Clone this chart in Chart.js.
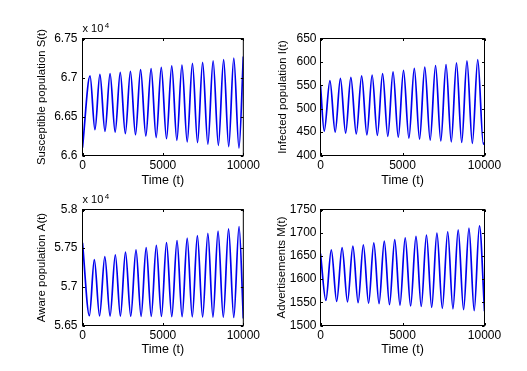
<!DOCTYPE html>
<html>
<head>
<meta charset="utf-8">
<script src="https://cdn.jsdelivr.net/npm/chart.js@4.4.1/dist/chart.umd.min.js"></script>
<style>
  html, body { margin: 0; padding: 0; background: #fff; }
  body { width: 527px; height: 371px; position: relative; overflow: hidden; }
  canvas { position: absolute; }
</style>
</head>
<body>
<canvas id="cS" width="263" height="190" style="left:0px;top:0px"></canvas>
<canvas id="cI" width="264" height="190" style="left:263px;top:0px"></canvas>
<canvas id="cA" width="263" height="190" style="left:0px;top:170px"></canvas>
<canvas id="cM" width="264" height="190" style="left:263px;top:170px"></canvas>
<script>
// ---- data ----
const timeTicks = [0, 5000, 10000];

const sTime = [0, 469, 775, 1082, 1398, 1714, 2030, 2347, 2663, 2980, 3296, 3612, 3939, 4265, 4582, 4898, 5224, 5551, 5867, 6184, 6510, 6837, 7153, 7469, 7796, 8122, 8449, 8776, 9092, 9408, 9730, 10000];
const sValues = [66100, 67020, 66330, 67040, 66310, 67050, 66300, 67065, 66280, 67080, 66265, 67100, 66250, 67115, 66230, 67130, 66215, 67150, 66195, 67160, 66175, 67180, 66165, 67195, 66145, 67215, 66130, 67230, 66115, 67250, 66095, 67270];
const sTicks = [66000, 66500, 67000, 67500];

const iTime = [0, 226, 576, 895, 1214, 1533, 1852, 2181, 2510, 2829, 3148, 3467, 3786, 4105, 4424, 4743, 5062, 5391, 5720, 6039, 6358, 6687, 7016, 7335, 7654, 7973, 8292, 8611, 8930, 9259, 9588, 9930, 10000];
const iValues = [550, 452, 560, 450, 565, 448, 567, 446, 570, 444, 572, 443, 575, 441, 579, 439, 582, 437, 586, 435, 589, 433, 592, 431, 594, 429, 598, 428, 602, 426, 605, 424, 428];
const iTicks = [400, 450, 500, 550, 600, 650];

const aTime = [0, 429, 735, 1061, 1388, 1714, 2041, 2357, 2673, 3000, 3327, 3643, 3959, 4275, 4592, 4908, 5224, 5551, 5878, 6194, 6510, 6826, 7143, 7469, 7796, 8112, 8429, 8755, 9082, 9408, 9735, 10000];
const aValues = [57570, 56627, 57352, 56625, 57390, 56623, 57415, 56622, 57450, 56620, 57479, 56619, 57508, 56618, 57538, 56617, 57572, 56615, 57597, 56613, 57631, 56612, 57661, 56610, 57690, 56608, 57720, 56606, 57750, 56604, 57780, 56590];
const aTicks = [56500, 57000, 57500, 58000];

const mTime = [0, 329, 658, 988, 1317, 1646, 1975, 2294, 2613, 2932, 3251, 3570, 3889, 4208, 4527, 4846, 5165, 5494, 5823, 6142, 6461, 6780, 7099, 7428, 7757, 8076, 8395, 8724, 9053, 9372, 9691, 10000];
const mValues = [1655, 1554, 1663, 1552, 1668, 1551, 1671, 1549, 1674, 1548, 1678, 1547, 1682, 1545, 1685, 1544, 1689, 1542, 1692, 1541, 1695, 1539, 1699, 1537, 1702, 1536, 1706, 1534, 1710, 1532, 1715, 1531];
const mTicks = [1500, 1550, 1600, 1650, 1700, 1750];

const xTitle = 'Time (t)';
const sTitle = 'Susceptible population S(t)';
const iTitle = 'Infected population I(t)';
const aTitle = 'Aware population A(t)';
const mTitle = 'Advertisements M(t)';

// ---- drawing ----
const FAMILY = "'Liberation Sans', Arial, Helvetica, sans-serif";

const boxPlugin = {
  id: 'matlabBox',
  afterDatasetsDraw(chart, args, opts) {
    const { ctx, chartArea: a, scales: { x, y } } = chart;
    ctx.save();
    ctx.strokeStyle = '#000';
    ctx.lineWidth = 1;
    ctx.strokeRect(a.left, a.top, a.right - a.left, a.bottom - a.top);
    const L = 2.5;
    ctx.beginPath();
    x.ticks.forEach(t => {
      const px = Math.round(x.getPixelForValue(t.value)) + 0.5;
      ctx.moveTo(px, a.bottom); ctx.lineTo(px, a.bottom - L);
      ctx.moveTo(px, a.top); ctx.lineTo(px, a.top + L);
    });
    y.ticks.forEach(t => {
      const py = Math.round(y.getPixelForValue(t.value)) + 0.5;
      ctx.moveTo(a.left, py); ctx.lineTo(a.left + L, py);
      ctx.moveTo(a.right, py); ctx.lineTo(a.right - L, py);
    });
    ctx.stroke();
    if (opts && opts.exponent) {
      ctx.fillStyle = '#000';
      ctx.textBaseline = 'middle';
      ctx.textAlign = 'left';
      ctx.font = '11px ' + FAMILY;
      const base = 'x 10';
      ctx.fillText(base, a.left, a.top - 9.5);
      const w = ctx.measureText(base).width;
      ctx.font = '8px ' + FAMILY;
      ctx.fillText(opts.exponent, a.left + w + 1.5, a.top - 12.5);
    }
    ctx.restore();
  }
};

function makeChart(id, times, values, ticks, yTitle, cfg) {
  const pts = times.map((t, k) => ({ x: t, y: values[k] }));
  return new Chart(document.getElementById(id), {
    type: 'line',
    data: {
      datasets: [{
        data: pts,
        borderColor: '#0000f0',
        borderWidth: 1.7,
        pointRadius: 0,
        fill: false,
        cubicInterpolationMode: 'monotone'
      }]
    },
    options: {
      responsive: false,
      animation: false,
      devicePixelRatio: 1,
      layout: { padding: { left: 0, top: cfg.top, right: cfg.right, bottom: 0 } },
      plugins: {
        legend: { display: false },
        tooltip: { enabled: false },
        matlabBox: { exponent: cfg.exponent || '' }
      },
      scales: {
        x: {
          type: 'linear',
          min: 0, max: 10000,
          afterBuildTicks: s => { s.ticks = timeTicks.map(v => ({ value: v })); },
          afterFit: s => { s.height = cfg.xh; },
          grid: { display: false, drawTicks: false },
          border: { display: false },
          ticks: { color: '#000', font: { family: FAMILY, size: 12 }, padding: 3, maxRotation: 0, autoSkip: false,
            callback: v => String(v) },
          title: { display: true, text: xTitle, color: '#000', font: { family: FAMILY, size: 12.5 }, padding: { top: 0, bottom: cfg.xtp } }
        },
        y: {
          type: 'linear',
          min: ticks[0], max: ticks[ticks.length - 1],
          afterBuildTicks: s => { s.ticks = ticks.map(v => ({ value: v })); },
          afterFit: s => { s.width = cfg.yw; },
          grid: { display: false, drawTicks: false },
          border: { display: false },
          ticks: {
            color: '#000', font: { family: FAMILY, size: 12 }, padding: cfg.ypad, autoSkip: false,
            callback: v => cfg.scale ? String(Math.round(v) / cfg.scale) : String(v)
          },
          title: { display: true, text: yTitle, color: '#000', font: { family: FAMILY, size: 11.4 }, padding: { top: cfg.ytp, bottom: 0 } }
        }
      }
    },
    plugins: [boxPlugin]
  });
}

makeChart('cS', sTime, sValues, sTicks, sTitle, { top: 38.5, right: 17.5, yw: 82.5, xh: 34.5, xtp: 2.1, ytp: 35.1, ypad: 5, scale: 10000, exponent: '4' });
makeChart('cI', iTime, iValues, iTicks, iTitle, { top: 38.5, right: 42.5, yw: 57.5, xh: 34.5, xtp: 2.1, ytp: 13.1, ypad: 4 });
makeChart('cA', aTime, aValues, aTicks, aTitle, { top: 39.5, right: 17.5, yw: 82.5, xh: 34.5, xtp: 2.8, ytp: 35.1, ypad: 5, scale: 10000, exponent: '4' });
makeChart('cM', mTime, mValues, mTicks, mTitle, { top: 39.5, right: 42.5, yw: 57.5, xh: 34.5, xtp: 2.8, ytp: 12.1, ypad: 4 });
</script>
</body>
</html>
